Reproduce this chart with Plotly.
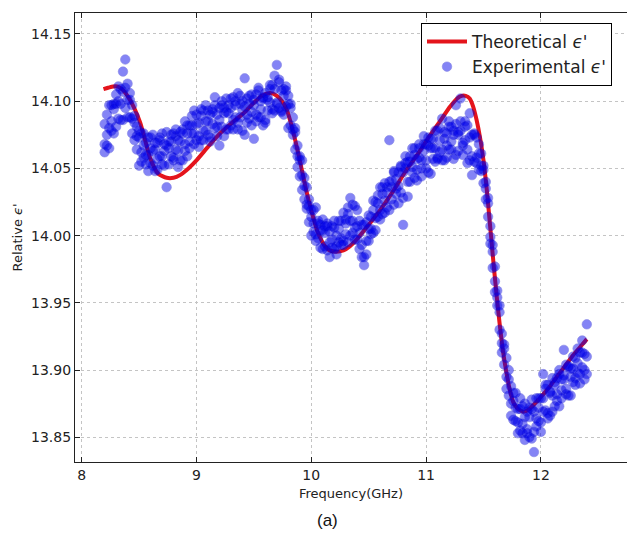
import plotly.graph_objects as go

freq_theory = [8.19, 8.23, 8.275, 8.31, 8.35, 8.42, 8.51, 8.595, 8.667, 8.74, 8.80, 8.856, 8.93, 9.0, 9.1,
               9.205, 9.31, 9.41, 9.49, 9.57, 9.64, 9.70, 9.745, 9.785, 9.84, 9.90, 9.95, 9.99, 10.05, 10.08,
               10.12, 10.16, 10.22, 10.28, 10.335, 10.395, 10.50, 10.60, 10.72, 10.83, 10.93, 11.03, 11.12,
               11.21, 11.27, 11.31, 11.345, 11.38, 11.41, 11.44, 11.47, 11.50, 11.53, 11.56, 11.59, 11.615,
               11.64, 11.67, 11.70, 11.73, 11.76, 11.79, 11.82, 11.85, 11.90, 11.99, 12.07, 12.14, 12.21,
               12.28, 12.34, 12.40]
eps_theory = [14.109, 14.110, 14.111, 14.111, 14.109, 14.101, 14.084, 14.058, 14.046, 14.043, 14.043, 14.045,
              14.050, 14.056, 14.066, 14.076, 14.084, 14.091, 14.098, 14.104, 14.106, 14.104, 14.100, 14.094,
              14.078, 14.056, 14.036, 14.022, 14.004, 13.998, 13.992, 13.989, 13.988, 13.989, 13.992, 13.997,
              14.008, 14.019, 14.034, 14.049, 14.061, 14.074, 14.085, 14.096, 14.102, 14.104, 14.104, 14.102,
              14.096, 14.086, 14.073, 14.056, 14.033, 14.005, 13.977, 13.955, 13.935, 13.914, 13.898, 13.885,
              13.876, 13.872, 13.870, 13.869, 13.871, 13.879, 13.887, 13.895, 13.903, 13.911, 13.917, 13.923]

freq_exp = [
    8.20, 8.22, 8.24, 8.26, 8.28, 8.30, 8.32, 8.34, 8.36, 8.38,
    8.40, 8.42, 8.44, 8.46, 8.48, 8.50, 8.52, 8.54, 8.56, 8.58,
    8.60, 8.62, 8.64, 8.66, 8.68, 8.70, 8.72, 8.74, 8.76, 8.78,
    8.80, 8.82, 8.84, 8.86, 8.88, 8.90, 8.92, 8.94, 8.96, 8.98,
    9.00, 9.02, 9.04, 9.06, 9.08, 9.10, 9.12, 9.14, 9.16, 9.18,
    9.20, 9.22, 9.24, 9.26, 9.28, 9.30, 9.32, 9.34, 9.36, 9.38,
    9.40, 9.42, 9.44, 9.46, 9.48, 9.50, 9.52, 9.54, 9.56, 9.58,
    9.60, 9.62, 9.64, 9.66, 9.68, 9.70, 9.72, 9.74, 9.76, 9.78,
    9.80, 9.82, 9.84, 9.86, 9.88, 9.90, 9.92, 9.94, 9.96, 9.98,
    10.00, 10.02, 10.04, 10.06, 10.08, 10.10, 10.12, 10.14, 10.16, 10.18,
    10.20, 10.22, 10.24, 10.26, 10.28, 10.30, 10.32, 10.34, 10.36, 10.38,
    10.40, 10.42, 10.44, 10.46, 10.48, 10.50, 10.52, 10.54, 10.56, 10.58,
    10.60, 10.62, 10.64, 10.66, 10.68, 10.70, 10.72, 10.74, 10.76, 10.78,
    10.80, 10.82, 10.84, 10.86, 10.88, 10.90, 10.92, 10.94, 10.96, 10.98,
    11.00, 11.02, 11.04, 11.06, 11.08, 11.10, 11.12, 11.14, 11.16, 11.18,
    11.20, 11.22, 11.24, 11.26, 11.28, 11.30, 11.32, 11.34, 11.36, 11.38,
    11.40, 11.42, 11.44, 11.46, 11.48, 11.50, 11.52, 11.54, 11.56, 11.58,
    11.60, 11.62, 11.64, 11.66, 11.68, 11.70, 11.72, 11.74, 11.76, 11.78,
    11.80, 11.82, 11.84, 11.86, 11.88, 11.90, 11.92, 11.94, 11.96, 11.98,
    12.00, 12.02, 12.04, 12.06, 12.08, 12.10, 12.12, 12.14, 12.16, 12.18,
    12.20, 12.22, 12.24, 12.26, 12.28, 12.30, 12.32, 12.34, 12.36, 12.38,
    12.40]

eps_exp_a = [
    14.083, 14.075, 14.097, 14.085, 14.098, 14.081, 14.100, 14.098, 14.086, 14.110,
    14.113, 14.088, 14.076, 14.084, 14.074, 14.052, 14.076, 14.058, 14.069, 14.060,
    14.073, 14.052, 14.064, 14.049, 14.071, 14.059, 14.063, 14.077, 14.053, 14.070,
    14.058, 14.074, 14.051, 14.070, 14.079, 14.068, 14.059, 14.082, 14.076, 14.093,
    14.071, 14.084, 14.071, 14.093, 14.078, 14.085, 14.073, 14.092, 14.103, 14.081,
    14.086, 14.097, 14.074, 14.092, 14.097, 14.082, 14.103, 14.088, 14.079, 14.098,
    14.093, 14.075, 14.102, 14.087, 14.105, 14.097, 14.085, 14.110, 14.094, 14.103,
    14.084, 14.103, 14.099, 14.112, 14.093, 14.098, 14.116, 14.093, 14.104, 14.108,
    14.080, 14.098, 14.079, 14.077, 14.051, 14.056, 14.056, 14.027, 14.023, 14.027,
    14.000, 14.009, 14.021, 13.998, 14.008, 13.990, 14.002, 14.009, 13.984, 13.997,
    14.006, 13.992, 14.011, 13.998, 13.993, 14.009, 14.021, 14.000, 14.011, 13.997,
    14.019, 14.002, 14.008, 13.984, 14.010, 14.005, 14.001, 14.026, 14.013, 14.024,
    14.012, 14.036, 14.026, 14.036, 14.019, 14.036, 14.048, 14.031, 14.037, 14.051,
    14.028, 14.050, 14.055, 14.040, 14.051, 14.065, 14.049, 14.058, 14.044, 14.068,
    14.056, 14.067, 14.046, 14.072, 14.065, 14.058, 14.080, 14.064, 14.072, 14.058,
    14.081, 14.070, 14.078, 14.060, 14.075, 14.085, 14.067, 14.071, 14.082, 14.056,
    14.075, 14.075, 14.054, 14.061, 14.052, 14.052, 14.027, 14.024, 13.994, 13.988,
    13.977, 13.948, 13.943, 13.913, 13.916, 13.895, 13.900, 13.875, 13.883, 13.862,
    13.871, 13.879, 13.853, 13.865, 13.856, 13.872, 13.849, 13.869, 13.864, 13.879,
    13.861, 13.879, 13.870, 13.889, 13.866, 13.881, 13.891, 13.877, 13.900, 13.885,
    13.896, 13.882, 13.902, 13.895, 13.910, 13.894, 13.905, 13.890, 13.913, 13.900,
    13.910]

eps_exp_b = [
    14.068, 14.090, 14.080, 14.097, 14.076, 14.098, 14.087, 14.109, 14.107, 14.095,
    14.088, 14.101, 14.097, 14.071, 14.081, 14.073, 14.062, 14.076, 14.053, 14.073,
    14.054, 14.063, 14.048, 14.069, 14.059, 14.076, 14.052, 14.067, 14.070, 14.059,
    14.076, 14.064, 14.071, 14.056, 14.076, 14.063, 14.082, 14.070, 14.089, 14.068,
    14.083, 14.066, 14.089, 14.078, 14.097, 14.075, 14.090, 14.083, 14.097, 14.074,
    14.095, 14.081, 14.091, 14.102, 14.079, 14.095, 14.086, 14.100, 14.084, 14.104,
    14.078, 14.096, 14.084, 14.104, 14.092, 14.101, 14.090, 14.108, 14.088, 14.102,
    14.086, 14.101, 14.109, 14.094, 14.109, 14.099, 14.114, 14.092, 14.109, 14.096,
    14.104, 14.082, 14.088, 14.064, 14.067, 14.044, 14.045, 14.043, 14.020, 14.022,
    14.019, 14.003, 13.996, 14.009, 13.991, 14.004, 13.992, 14.007, 13.995, 14.007,
    13.990, 14.000, 13.995, 14.011, 13.996, 14.012, 13.995, 14.011, 14.002, 14.022,
    14.007, 14.011, 13.993, 14.008, 13.996, 14.015, 14.005, 14.019, 14.004, 14.030,
    14.019, 14.031, 14.017, 14.032, 14.040, 14.027, 14.047, 14.035, 14.047, 14.032,
    14.047, 14.059, 14.040, 14.059, 14.047, 14.060, 14.041, 14.065, 14.056, 14.063,
    14.050, 14.073, 14.065, 14.057, 14.078, 14.057, 14.071, 14.056, 14.077, 14.067,
    14.085, 14.064, 14.075, 14.083, 14.063, 14.078, 14.069, 14.085, 14.064, 14.073,
    14.059, 14.076, 14.058, 14.068, 14.048, 14.049, 14.040, 14.014, 14.007, 13.976,
    13.966, 13.959, 13.930, 13.927, 13.904, 13.909, 13.881, 13.888, 13.863, 13.872,
    13.853, 13.871, 13.860, 13.875, 13.853, 13.865, 13.871, 13.854, 13.879, 13.862,
    13.879, 13.869, 13.886, 13.868, 13.883, 13.869, 13.889, 13.882, 13.897, 13.879,
    13.893, 13.904, 13.881, 13.901, 13.891, 13.909, 13.898, 13.913, 13.902, 13.912,
    13.897]

eps_exp_c = [
    14.062, 14.067, 14.065, 14.078, 14.094, 14.105, 14.111, 14.086, 14.122, 14.131,
    14.101, 14.106, 14.087, 14.089, 14.064, 14.078, 14.055, 14.067, 14.060, 14.048,
    14.065, 14.075, 14.069, 14.057, 14.073, 14.053, 14.068, 14.036, 14.065, 14.075,
    14.056, 14.079, 14.063, 14.077, 14.056, 14.085, 14.076, 14.065, 14.082, 14.076,
    14.090, 14.074, 14.094, 14.071, 14.085, 14.093, 14.070, 14.094, 14.080, 14.090,
    14.067, 14.100, 14.095, 14.079, 14.091, 14.102, 14.079, 14.097, 14.106, 14.088,
    14.100, 14.117, 14.090, 14.098, 14.082, 14.072, 14.105, 14.088, 14.100, 14.082,
    14.106, 14.093, 14.112, 14.091, 14.119, 14.127, 14.095, 14.108, 14.090, 14.111,
    14.098, 14.095, 14.075, 14.080, 14.059, 14.059, 14.034, 14.037, 14.036, 14.010,
    14.014, 14.019, 14.001, 14.011, 14.004, 14.012, 14.007, 13.989, 14.003, 13.991,
    14.011, 13.986, 14.005, 13.993, 14.017, 14.001, 14.016, 14.028, 14.023, 14.006,
    13.997, 13.990, 13.984, 13.978, 13.986, 13.996, 14.014, 14.002, 14.025, 14.014,
    14.036, 14.016, 14.039, 14.021, 14.071, 14.041, 14.023, 14.042, 14.024, 14.052,
    14.008, 14.054, 14.029, 14.055, 14.065, 14.043, 14.057, 14.068, 14.050, 14.074,
    14.068, 14.047, 14.072, 14.065, 14.055, 14.078, 14.062, 14.087, 14.056, 14.076,
    14.064, 14.081, 14.057, 14.097, 14.077, 14.102, 14.060, 14.081, 14.054, 14.091,
    14.045, 14.055, 14.073, 14.049, 14.061, 14.039, 14.035, 14.028, 13.999, 13.993,
    13.958, 13.954, 13.948, 13.920, 13.919, 13.886, 13.893, 13.866, 13.877, 13.883,
    13.861, 13.855, 13.873, 13.848, 13.869, 13.850, 13.878, 13.839, 13.858, 13.872,
    13.854, 13.897, 13.889, 13.864, 13.884, 13.894, 13.873, 13.894, 13.873, 13.893,
    13.915, 13.886, 13.903, 13.881, 13.901, 13.889, 13.916, 13.897, 13.922, 13.893,
    13.934]

assert len(freq_exp) == len(eps_exp_a) == len(eps_exp_b) == len(eps_exp_c), (
    len(freq_exp), len(eps_exp_a), len(eps_exp_b), len(eps_exp_c))
assert len(freq_theory) == len(eps_theory)

x_ticks = [8, 9, 10, 11, 12]
x_tick_labels = ["8", "9", "10", "11", "12"]
y_ticks = [13.85, 13.90, 13.95, 14.00, 14.05, 14.10, 14.15]
y_tick_labels = ["13.85", "13.90", "13.95", "14.00", "14.05", "14.10", "14.15"]

FONT = "DejaVu Sans"

fig = go.Figure()
fig.add_trace(go.Scatter(
    x=freq_theory, y=eps_theory, mode="lines", name="Theoretical <i>ϵ</i>'",
    line=dict(color="#e4141c", width=4, shape="spline", smoothing=0.6),
    legendrank=1,
))
fig.add_trace(go.Scatter(
    x=freq_exp * 3, y=eps_exp_a + eps_exp_b + eps_exp_c,
    mode="markers", name="Experimental <i>ϵ</i>'",
    marker=dict(size=9.5, color="rgb(0,0,235)", opacity=0.48,
                line=dict(width=0.6, color="rgb(0,0,200)")),
    legendrank=2,
))

PLOT_W = 552  # plot area from x=75 to the window's right edge (627)
PLOT_H = 449  # plot area from y=13 to y=462

fig.update_layout(
    width=627, height=533,
    margin=dict(l=75, r=0, t=13, b=71),
    paper_bgcolor="white", plot_bgcolor="white",
    font=dict(family=FONT, size=14, color="#222"),
    showlegend=True,
    legend=dict(
        x=(612 - 75) / PLOT_W, xanchor="right", y=1 - (23 - 13) / PLOT_H, yanchor="top",
        bordercolor="black", borderwidth=1, bgcolor="white",
        font=dict(family=FONT, size=17, color="#222"),
        itemwidth=40, tracegroupgap=4,
    ),
    xaxis=dict(
        range=[7.942, 12.75], tickvals=x_ticks, ticktext=x_tick_labels,
        showgrid=True, gridcolor="#c4c4c4", griddash="dot", gridwidth=1,
        showline=True, linecolor="#222", linewidth=1.2, mirror="ticks",
        ticks="inside", ticklen=5, tickcolor="#222", zeroline=False,
        title=dict(text="Frequency(GHz)", font=dict(size=13, family=FONT, color="#222"), standoff=6),
        tickfont=dict(size=14),
    ),
    yaxis=dict(
        range=[13.8316, 14.1656], tickvals=y_ticks, ticktext=y_tick_labels,
        showgrid=True, gridcolor="#c4c4c4", griddash="dot", gridwidth=1,
        showline=True, linecolor="#222", linewidth=1.2, mirror=False,
        ticks="inside", ticklen=5, tickcolor="#222", zeroline=False,
        tickfont=dict(size=14),
    ),
    annotations=[
        dict(text="Relative <i>ϵ</i>'", xref="paper", yref="paper", x=-58 / PLOT_W, y=0.5,
             xanchor="center", yanchor="middle", textangle=-90, showarrow=False,
             font=dict(size=13, family=FONT, color="#222")),
        dict(text="(a)", xref="paper", yref="paper", x=(327 - 75) / PLOT_W, y=-(520 - 462) / PLOT_H,
             xanchor="center", yanchor="middle", showarrow=False,
             font=dict(size=17, family="Liberation Sans", color="#111")),
    ],
)

fig.write_html(
    "out.html",
    config={"responsive": False, "displayModeBar": False},
    post_script="document.body.style.margin='0';document.body.style.overflow='hidden';"
                "document.documentElement.style.overflow='hidden';",
)
